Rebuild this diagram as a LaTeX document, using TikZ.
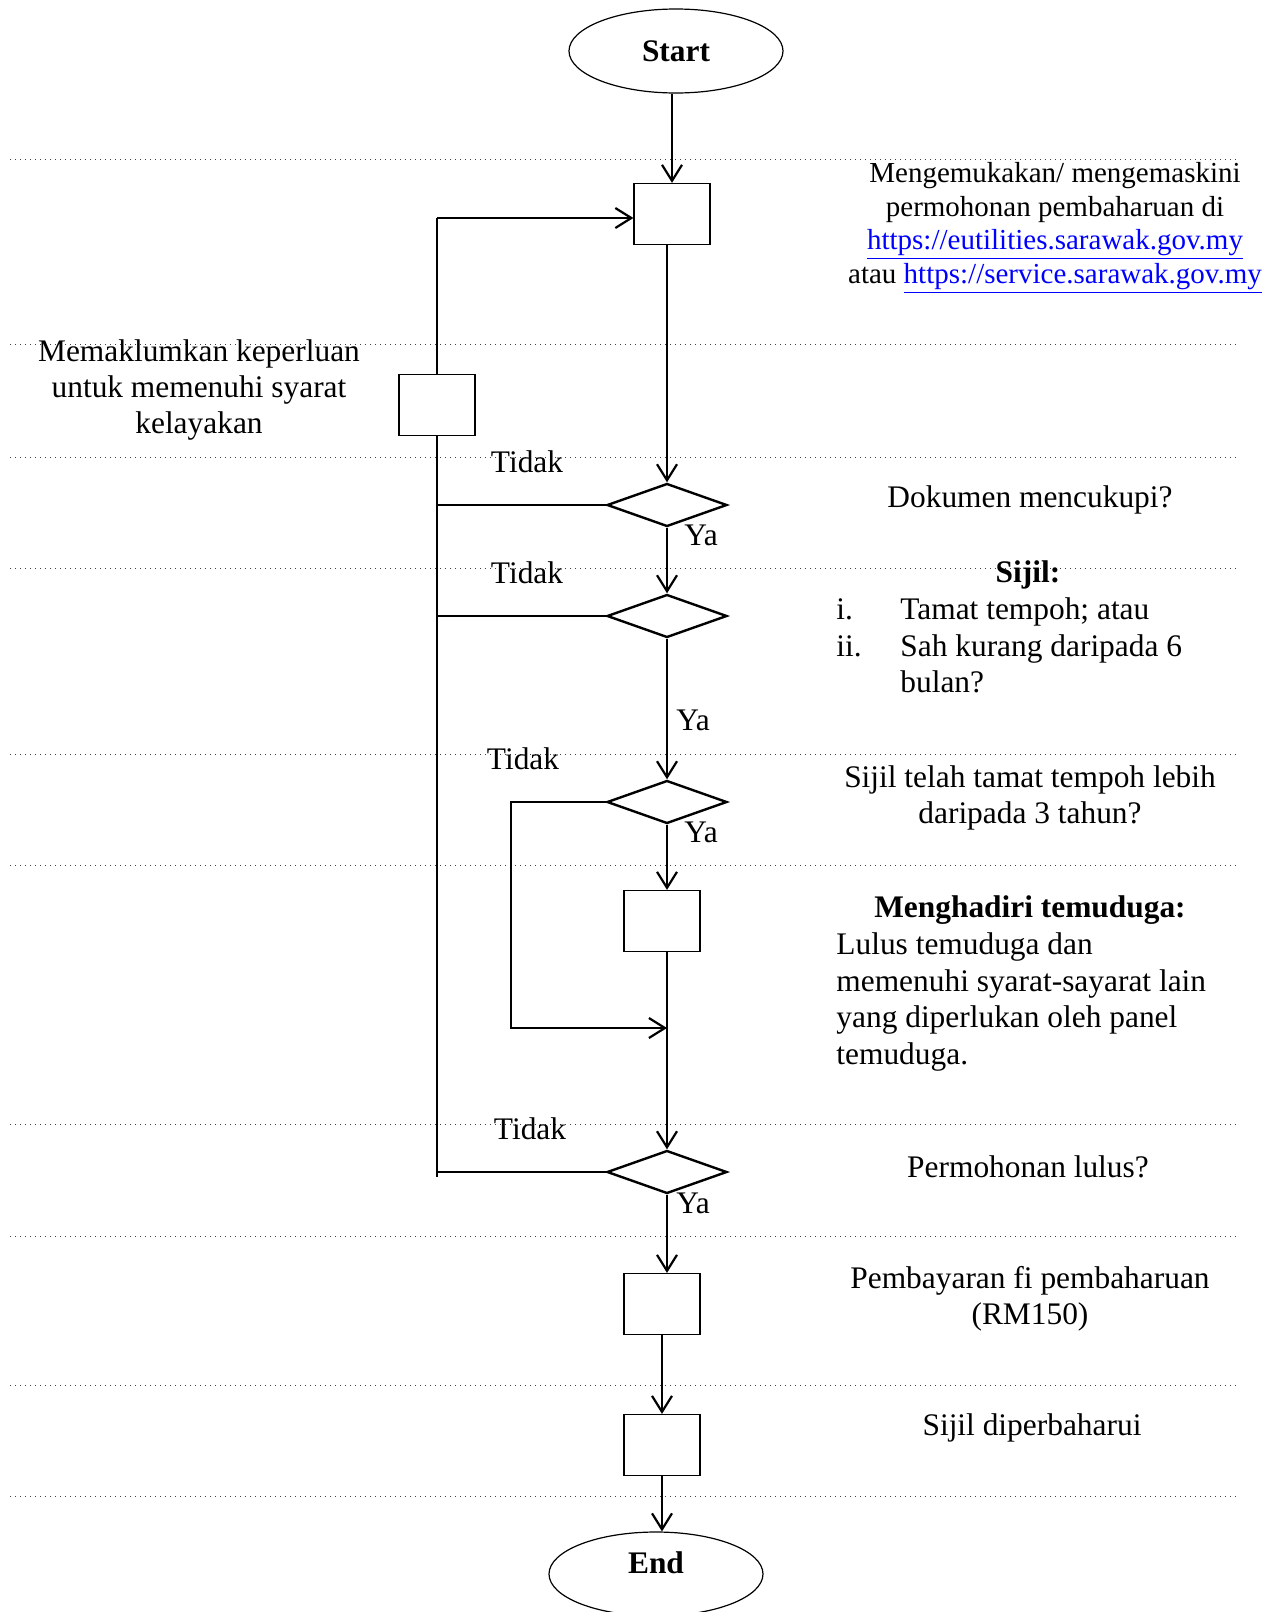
\documentclass[tikz,border=0pt]{standalone}
\usepackage{fontspec}
\setmainfont{Liberation Serif}
\usetikzlibrary{shapes.geometric,arrows.meta}
\newcommand\fsz{\fontsize{15.7}{18.2}\selectfont}
\newcommand\fszs{\fontsize{14.5}{16.75}\selectfont}
\newcommand\lnk[1]{{\color{blue}\underline{#1}}}
\begin{document}
\begin{tikzpicture}[x=0.5pt,y=-0.5pt,
  conn/.style={line width=0.85pt},
  arr/.style={line width=1.1pt,-{Straight Barb[length=8pt,width=10pt,line width=1.1pt]}},
  sepline/.style={dotted,line width=0.5pt,black!75},
  stepbox/.style={draw,line width=0.6pt,minimum width=38pt,minimum height=30.5pt,inner sep=0},
  dec/.style={draw,diamond,line width=1.2pt,minimum width=60pt,minimum height=21.5pt,inner sep=0},
  term/.style={draw,ellipse,line width=0.6pt,minimum width=107pt,minimum height=42pt,inner sep=0,font=\fsz\bfseries},
  lbl/.style={inner sep=0,font=\fsz,align=center},
]
\useasboundingbox (0,0) rectangle (1275,1612);
\fill[white] (0,0) rectangle (1275,1612);

% swimlane separators
\foreach \yy in {159,344,457,568,754,865,1124,1236,1385,1496}
  \draw[sepline] (10,\yy) -- (1239,\yy);

% nodes
\node[term] (start) at (676,51) {Start};
\node[stepbox] (b1) at (672,214) {};
\node[stepbox] (bL) at (437,405) {};
\node[dec] (d1) at (667,505) {};
\node[dec] (d2) at (667,616) {};
\node[dec] (d3) at (667,802) {};
\node[stepbox] (bI) at (662,921) {};
\node[dec] (d4) at (667,1172) {};
\node[stepbox] (bP) at (662,1304) {};
\node[stepbox] (bR) at (662,1445) {};
\node[term,text depth=11pt] (end) at (656,1574) {End};

\coordinate (topL) at (437,218);
\coordinate (botL) at (437,1177);
\coordinate (bend3) at (511,1028);

% main flow
\draw[arr] (b1.north |- start.south) -- (b1.north);
\draw[arr] (b1.south -| d1.north) -- (d1.north);
\draw[arr] (d1.south) -- (d2.north);
\draw[arr] (d2.south) -- (d3.north);
\draw[arr] (d3.south) -- (d3.south |- bI.north);
\draw[arr] (bI.south -| d4.north) -- (d4.north);
\draw[arr] (d4.south) -- (d4.south |- bP.north);
\draw[arr] (bP.south) -- (bR.north);
\draw[arr] (bR.south) -- (bR.south |- end.north);

% Tidak loop
\draw[conn] (d1.west) -- (d1.west -| topL);
\draw[conn] (d2.west) -- (d2.west -| topL);
\draw[conn] (d4.west) -- (d4.west -| topL);
\draw[conn] (bL.south) -- (botL);
\draw[conn] (bL.north) -- (topL);
\draw[arr] (topL) -- (topL -| b1.west);
\draw[arr] (d3.west) -- (d3.west -| bend3) -- (bend3) -- (bend3 -| d3.south);

% branch labels
\node[lbl] (n1) at (527,462) {Tidak};
\node[lbl] (n2) at (527,573) {Tidak};
\node[lbl] (n3) at (523,759) {Tidak};
\node[lbl] (n4) at (530,1129) {Tidak};
\node[lbl] (y1) at (701,535) {Ya};
\node[lbl] (y2) at (693,720) {Ya};
\node[lbl] (y3) at (701,832) {Ya};
\node[lbl] (y4) at (693,1203) {Ya};

% descriptions
\node[lbl,font=\fszs] (t1) at (1055,228) {Mengemukakan/ mengemaskini\\permohonan pembaharuan di\\\lnk{https://eutilities.sarawak.gov.my}\\atau \lnk{https://service.sarawak.gov.my}};
\node[lbl] (t2) at (199,390) {Memaklumkan keperluan\\untuk memenuhi syarat\\kelayakan};
\node[lbl] (t3) at (1030,500) {Dokumen mencukupi?};
\node[lbl,font=\fsz\bfseries] (t4) at (1028,575) {Sijil:};
\node[lbl,anchor=base west] (t4a) at (836,619) {i.};
\node[lbl,anchor=base west] (t4b) at (900,619) {Tamat tempoh; atau};
\node[lbl,anchor=base west] (t4c) at (836,656) {ii.};
\node[lbl,anchor=base west] (t4d) at (900,656) {Sah kurang daripada 6};
\node[lbl,anchor=base west] (t4e) at (900,692) {bulan?};
\node[lbl] (t5) at (1030,798) {Sijil telah tamat tempoh lebih\\daripada 3 tahun?};
\node[lbl,font=\fsz\bfseries] (t6) at (1030,910) {Menghadiri temuduga:};
\node[lbl,anchor=base west] (t6a) at (836,954) {Lulus temuduga dan};
\node[lbl,anchor=base west] (t6b) at (836,991) {memenuhi syarat-sayarat lain};
\node[lbl,anchor=base west] (t6c) at (836,1027) {yang diperlukan oleh panel};
\node[lbl,anchor=base west] (t6d) at (836,1064) {temuduga.};
\node[lbl] (t7) at (1028,1167) {Permohonan lulus?};
\node[lbl] (t8) at (1030,1299) {Pembayaran fi pembaharuan\\(RM150)};
\node[lbl] (t9) at (1032,1428) {Sijil diperbaharui};
\end{tikzpicture}
\end{document}
